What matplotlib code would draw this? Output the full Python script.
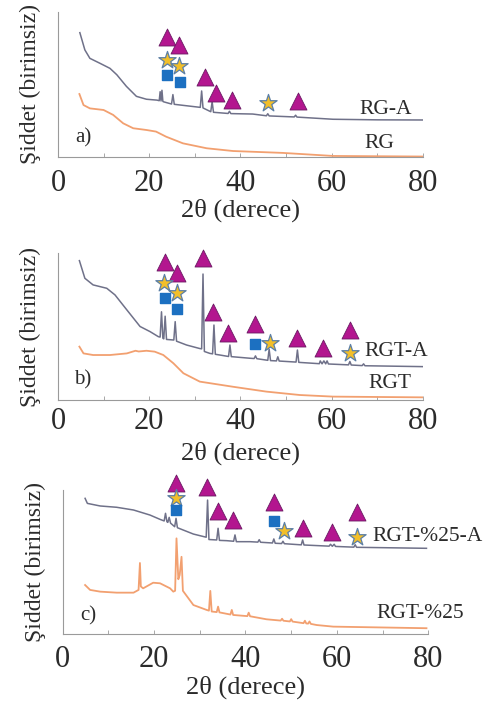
import numpy as np
import matplotlib.pyplot as plt

plt.rcParams['font.family'] = ['Liberation Serif', 'DejaVu Serif']

# ---- a) RG-A / RG ----
rga_x = [4.8, 5.9, 7.0, 9.2, 11.4, 12.9, 15.0, 17.2, 19.4, 21.7, 22.2, 22.4, 22.6, 22.8, 23.0, 23.2,
         24.9, 25.2, 25.5, 31.2, 31.5, 31.8, 33.5, 33.8, 34.1, 37.3, 37.6, 37.9, 42.7, 45.7, 46.0, 46.3,
         51.8, 52.1, 52.4, 60.3, 70, 80]
rga_y = [85.7, 73.8, 68, 64.6, 61.1, 56.7, 48.7, 41.8, 39.8, 39.2, 38.8, 45, 38.6, 46, 38.3, 38,
         36.5, 43, 36.3, 34.2, 45.5, 33.8, 31.2, 38, 30.8, 30, 31.5, 29.9, 29.6, 28.4, 29.8, 28.3,
         27.6, 28.8, 27.5, 26, 25.6, 25.5]
rg_x = [4.7, 5.6, 7.0, 10.0, 12.1, 14.3, 16.5, 19.4, 21.5, 23.7, 27.4, 32.6, 38.4, 49.3, 60.3, 80]
rg_y = [43.4, 35.8, 33.5, 32.4, 29, 23.2, 19.8, 18.6, 17.5, 14, 9.4, 6, 4.1, 2.8, 0.7, 0.3]
tri_a = ([23.9, 26.5, 32.2, 34.6, 38.1, 52.6], [82.6, 77.2, 55, 44, 39.3, 38.8])
star_a = ([23.9, 26.5, 46.0], [66.9, 62.8, 37.4])
sq_a = ([24.0, 26.7], [56.6, 51.9])

# ---- b) RGT-A / RGT ----
rgta_x = [4.7, 5.9, 7.7, 10.7, 12.5, 15.1, 18, 20.2, 22, 22.4, 22.7, 23.0, 23.2, 23.5, 23.8,
          25.4, 25.7, 26.0, 28.2, 31.1, 31.5, 31.8, 32.1, 33.3, 33.9, 34.2, 34.5, 35.5,
          37.4, 37.7, 38.0, 42.1, 43.0, 43.3, 43.6, 46.0, 46.3, 46.6, 47.9, 48.2, 48.5,
          52.2, 52.5, 52.8, 57.3, 57.5, 57.9, 58.3, 58.7, 59.0, 59.3, 63.7, 64.0, 64.3,
          66.7, 67.0, 67.3, 80]
rgta_y = [94.8, 82.8, 78.3, 76, 71.5, 61.3, 50, 46.5, 43.1, 42.8, 60, 42, 41.6, 57, 41.2,
          40.8, 53.3, 40, 37.4, 35, 34.8, 85.7, 33, 31.7, 31.4, 51, 31.1, 30.6,
          29.6, 37.4, 29.5, 28.4, 28.2, 30, 28.1, 27, 34.5, 26.8, 26.6, 29.4, 26.5,
          25.8, 34, 25.6, 24.7, 26.6, 24.6, 26.6, 24.6, 26.6, 24.5, 23.9, 26.2, 23.8,
          23.4, 24.6, 23.3, 22.7]
rgt_x = [4.7, 5.6, 7.7, 11.4, 15.1, 17, 17.7, 19.4, 21.2, 23.1, 25.3, 27.5, 31.1, 38.4, 45.7, 53, 60.3, 80]
rgt_y = [36.3, 31.7, 30.6, 30.6, 31.7, 33.5, 33.0, 33.5, 32.9, 30.6, 25, 18.2, 12.5, 9, 5.7, 3.4, 2.3, 1.8]
tri_b = ([23.45, 26.2, 31.9, 34.0, 37.3, 43.2, 52.5, 58.2, 64.0],
         [94.1, 86.6, 96.4, 60.1, 45.4, 51.7, 42, 35.1, 47.6])
star_b = ([23.3, 26.2, 46.5, 64.0], [79.8, 72.6, 39, 32.2])
sq_b = ([23.45, 26.2, 43.2], [69.2, 61.7, 38.1])

# ---- c) RGT-%25-A / RGT-%25 ----
rgt25a_x = [4.9, 5.4, 8.2, 11.8, 15.5, 19.1, 21.3, 22.2, 22.5, 22.8, 23.0, 23.3, 23.6,
            24.5, 24.8, 25.1, 28.6, 31.4, 31.7, 32.0, 33.7, 34.0, 34.3, 35.9, 37.4, 37.7, 38.0,
            41, 42.7, 43.0, 43.3, 45.9, 46.2, 46.5, 47.9, 48.2, 48.5, 52.2, 52.5, 52.8,
            58.3, 58.6, 59.0, 59.4, 59.7, 63.7, 64.0, 64.3, 79.6]
rgt25a_y = [94.2, 90.7, 88.9, 88, 86.1, 82.6, 79.6, 78.5, 83.8, 78, 77.5, 81, 77,
            74.5, 80.3, 73.8, 69.4, 67.2, 93, 65.6, 65.3, 73.4, 65, 64.8, 64.4, 68.8, 64.1,
            64.1, 63.8, 65.5, 63.7, 63.2, 66, 63, 62.8, 64.4, 62.7, 61.9, 65.3, 61.8,
            61, 62.3, 60.9, 62.3, 60.8, 60.3, 62, 60.2, 59.5]
rgt25_x = [4.9, 6, 8.2, 11.8, 15.5, 16.6, 16.9, 17.1, 17.6, 19.8, 21.3, 23.5, 24.2, 24.6, 24.9,
           25.3, 25.6, 26.0, 26.3, 28.6, 31.5, 32.0, 32.3, 32.6, 33.7, 34.0, 34.3, 36.7, 37.0, 37.3,
           40.4, 40.7, 41.0, 44.6, 47.7, 48.0, 48.3, 49.7, 50.0, 50.3, 52.7, 53.0, 53.3, 53.7, 54.0,
           54.3, 55.6, 59.2, 79.6]
rgt25_y = [34, 30.6, 29.4, 28.7, 28.7, 30.6, 49.3, 33, 31.7, 35.6, 35.2, 31.7, 29.4, 30, 66.4,
           38, 41, 53.6, 30, 20.1, 16.7, 16.2, 29.9, 15.6, 15.2, 19, 15, 13.5, 16.7, 13.2,
           12.4, 14.8, 12.3, 10.2, 9.3, 10.6, 9.2, 8.7, 10.3, 8.6, 7.5, 9.2, 7.3, 7.2, 8.7,
           7, 6.2, 5.1, 4]
tri_c = ([24.9, 31.6, 34.0, 37.3, 46.3, 52.6, 58.9, 64.5],
         [105.1, 102.3, 85.6, 79.2, 91.9, 73.8, 71.1, 84.9])
star_c = ([24.7, 48.4, 64.5], [94.7, 71.8, 67.1])
sq_c = ([24.9, 46.2], [86.1, 78.7])

tick_vals = np.arange(0, 81, 10)
tick_txt = ['0', '', '20', '', '40', '', '60', '', '80']

blue_line = '#6f7189'
orange_line = '#f2a070'
tri_col, tri_edge = '#b3168f', '#6a1a63'
star_col, star_edge = '#f2bf2a', '#5b7fa6'
sq_col = '#1c70c1'
txt = '#2b2b2b'

fig = plt.figure(figsize=(5.04, 7.02), dpi=100)

panels = [
    ([0.115, 0.7764, 0.724, 0.2066], rga_x, rga_y, rg_x, rg_y, tri_a, star_a, sq_a,
     [('RG-A', 66.2, 33), ('RG', 67.2, 9.5)], 'a)', 13, 9),
    ([0.115, 0.4302, 0.724, 0.2094], rgta_x, rgta_y, rgt_x, rgt_y, tri_b, star_b, sq_b,
     [('RGT-A', 67.2, 32.9), ('RGT', 68.0, 10.9)], 'b)', 13.6, 5),
    ([0.1244, 0.0969, 0.7254, 0.2051], rgt25a_x, rgt25a_y, rgt25_x, rgt25_y, tri_c, star_c, sq_c,
     [('RGT-%25-A', 67.8, 67.6), ('RGT-%25', 68.6, 14.4)], 'c)', 12.5, 8),
]

for rect, ax_x, ax_y, bx, by, tri, star, sq, labels, tag, tag_y, tpad in panels:
    ax = fig.add_axes(rect)
    ax.plot(ax_x, ax_y, color=blue_line, lw=1.1)
    ax.plot(bx, by, color=orange_line, lw=1.3)
    ax.scatter(tri[0], tri[1], marker='^', s=150, color=tri_col, edgecolors=tri_edge,
               linewidths=0.6, zorder=3, clip_on=False)
    ax.scatter(star[0], star[1], marker='*', s=170, color=star_col, edgecolors=star_edge,
               linewidths=0.9, zorder=3, clip_on=False)
    ax.scatter(sq[0], sq[1], marker='s', s=55, color=sq_col, zorder=3, clip_on=False)
    for s, lx, ly in labels:
        ax.text(lx, ly, s, fontsize=15.5, color=txt, ha='left', va='center')
    ax.text(5.5, tag_y, tag, fontsize=15, color=txt, ha='center', va='center')
    ax.set_xlim(0, 80)
    ax.set_ylim(0, 100)
    ax.spines['top'].set_visible(False)
    ax.spines['right'].set_visible(False)
    ax.spines['left'].set_color('#9a9a9a')
    ax.spines['bottom'].set_color('#9a9a9a')
    ax.set_yticks([])
    ax.set_xticks(tick_vals)
    ax.set_xticklabels(tick_txt)
    ax.tick_params(axis='x', direction='in', length=3, width=0.6, color='#9a9a9a',
                   labelsize=22, labelcolor=txt, pad=tpad)
    ax.set_xlabel('2θ (derece)', fontsize=19, color=txt)
    h_px = rect[3] * 702
    ax.xaxis.set_label_coords(0.5, -53 / h_px)
    ax.xaxis.label.set_verticalalignment('center')
    ax.set_ylabel('Şiddet (birimsiz)', fontsize=17, color=txt, labelpad=12)

fig.savefig('out.png', dpi=100)
